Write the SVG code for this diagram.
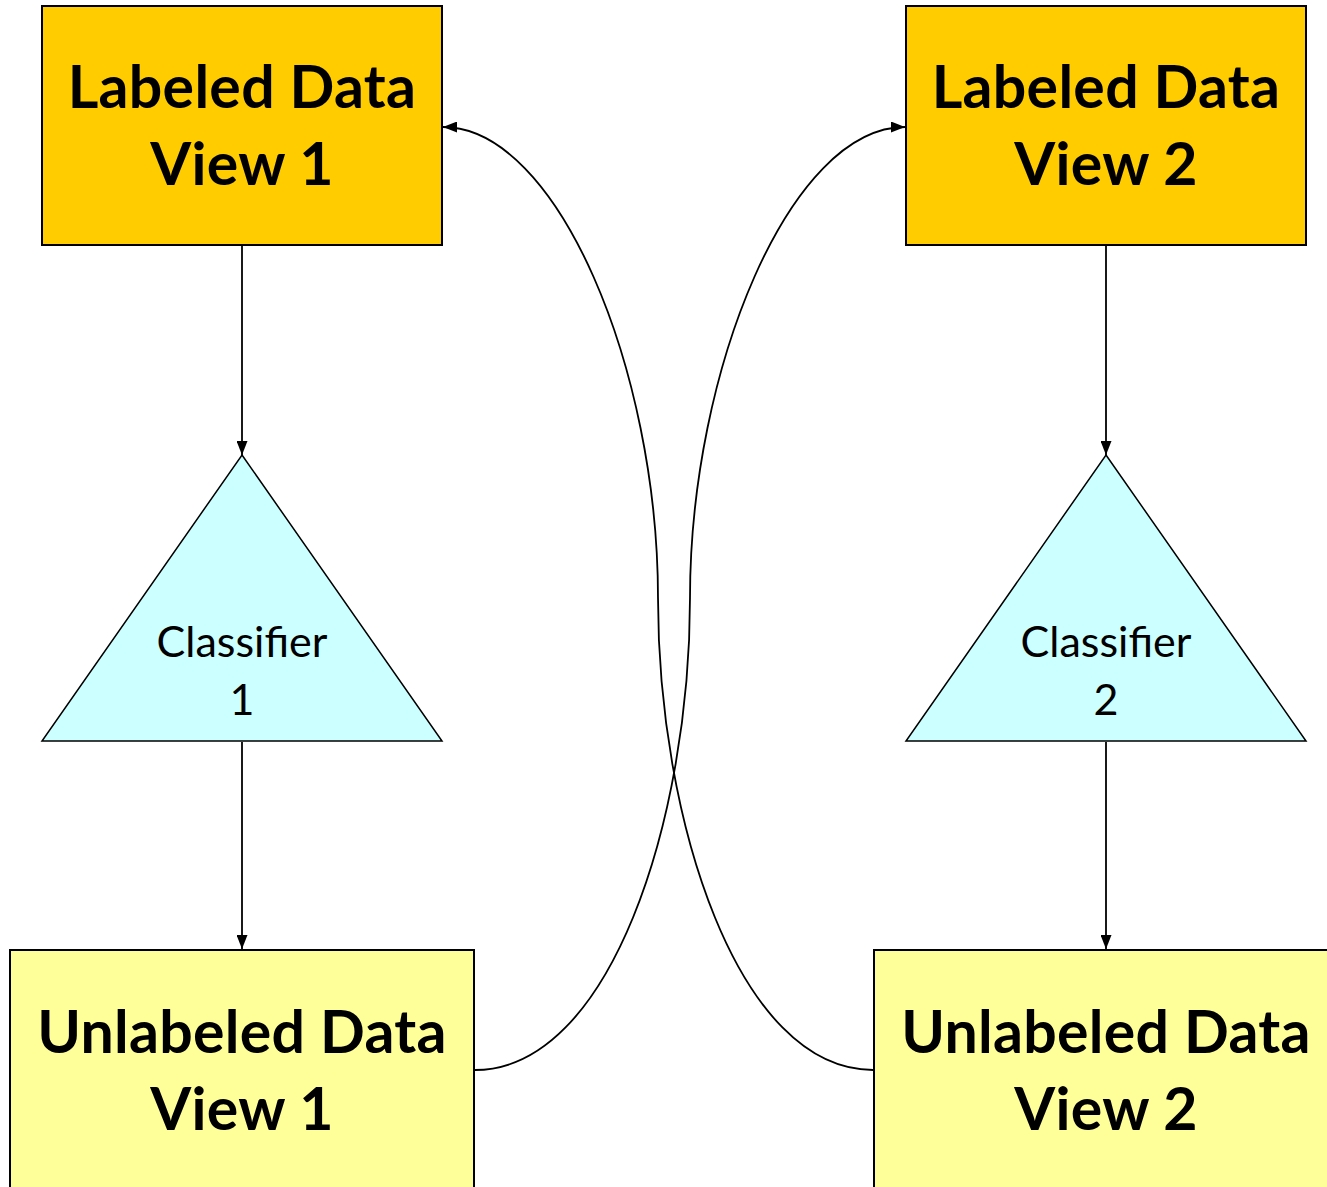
<svg xmlns="http://www.w3.org/2000/svg" width="1327" height="1187" viewBox="0 0 1327 1187">
  <style>
    .box { stroke: #000; stroke-width: 2; }
    .labeled { fill: #FFCC00; }
    .unlabeled { fill: #FFFF99; }
    .clf { fill: #CCFFFF; stroke: #000; stroke-width: 1.5; }
    .big { font-family: Lato, "Open Sans", "Liberation Sans", sans-serif; font-weight: bold; font-size: 59px; letter-spacing: 0.3px; fill: #000; text-anchor: middle; }
    .small { font-family: Lato, "Open Sans", "Liberation Sans", sans-serif; font-size: 43px; fill: #000; text-anchor: middle; }
    .edge { fill: none; stroke: #000; stroke-width: 1.8; }
  </style>
  <defs>
    <marker id="arrow" viewBox="0 0 14 11" refX="14" refY="5.5" markerWidth="14" markerHeight="11" markerUnits="userSpaceOnUse" orient="auto">
      <path d="M0,0 L14,5.5 L0,11 Z" fill="#000"/>
    </marker>
  </defs>
  <rect width="1327" height="1187" fill="#fff"/>

  <g id="labeled-view-1">
    <rect class="box labeled" x="42" y="6" width="400" height="239"/>
    <text class="big" x="242" y="108">Labeled Data</text>
    <text class="big" x="242" y="185">View 1</text>
  </g>
  <g id="labeled-view-2">
    <rect class="box labeled" x="906" y="6" width="400" height="239"/>
    <text class="big" x="1106" y="108">Labeled Data</text>
    <text class="big" x="1106" y="185">View 2</text>
  </g>
  <g id="classifier-1">
    <polygon class="clf" points="242,455 442,741 42,741"/>
    <text class="small" x="242" y="657">Classifier</text>
    <text class="small" x="242" y="715">1</text>
  </g>
  <g id="classifier-2">
    <polygon class="clf" points="1106,455 1306,741 906,741"/>
    <text class="small" x="1106" y="657">Classifier</text>
    <text class="small" x="1106" y="715">2</text>
  </g>
  <g id="unlabeled-view-1">
    <rect class="box unlabeled" x="10" y="950" width="464" height="250"/>
    <text class="big" x="242" y="1053">Unlabeled Data</text>
    <text class="big" x="242" y="1130">View 1</text>
  </g>
  <g id="unlabeled-view-2">
    <rect class="box unlabeled" x="874" y="950" width="470" height="250"/>
    <text class="big" x="1106" y="1053">Unlabeled Data</text>
    <text class="big" x="1106" y="1130">View 2</text>
  </g>

  <g id="connectors">
    <line class="edge" x1="242" y1="246" x2="242" y2="455" marker-end="url(#arrow)"/>
    <line class="edge" x1="242" y1="742" x2="242" y2="949" marker-end="url(#arrow)"/>
    <line class="edge" x1="1106" y1="246" x2="1106" y2="455" marker-end="url(#arrow)"/>
    <line class="edge" x1="1106" y1="742" x2="1106" y2="949" marker-end="url(#arrow)"/>
    <path class="edge" d="M475,1070 C610,1070 690,820 690,598 C690,370 790,127 905,127" marker-end="url(#arrow)"/>
    <path class="edge" d="M873,1070 C738,1070 658,820 658,598 C658,370 558,127 443,127" marker-end="url(#arrow)"/>
  </g>
</svg>
